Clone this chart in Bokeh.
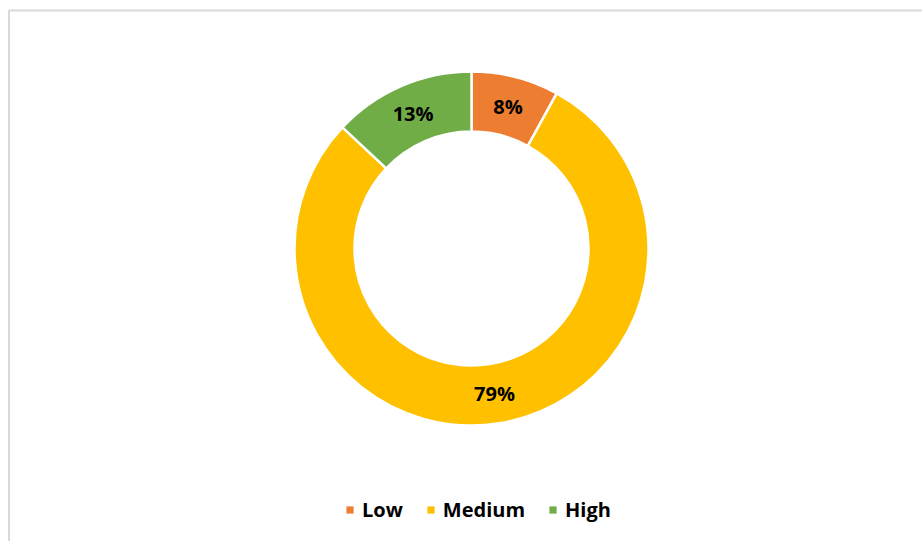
import math
from bokeh.plotting import figure
from bokeh.models import Range1d, Legend, LegendItem, ColumnDataSource
from bokeh.core.properties import value
from bokeh.embed import file_html
from bokeh.resources import INLINE

categories = ["Low", "Medium", "High"]
values = [8, 79, 13]
colors = ["#ED7D31", "#FFC000", "#70AD47"]
labels = ["8%", "79%", "13%"]

W, H = 922, 541
p = figure(width=W, height=H, output_backend="svg", toolbar_location=None,
           x_range=Range1d(0, W), y_range=Range1d(0, H), min_border=0)
p.axis.visible = False
p.grid.visible = False
p.outline_line_color = None
p.background_fill_color = "white"

# chart frame border (left and top visible)
p.quad(left=[8.5], right=[W + 100], top=[531], bottom=[-100],
       fill_color=None, line_color="#d9d9d9", line_width=2)

cx, cy = 471, 293
r_in, r_out = 117, 177
total = sum(values)
starts, ends, lx, ly = [], [], [], []
cum = 0.0
for v in values:
    a0 = math.pi / 2 - 2 * math.pi * cum / total
    a1 = math.pi / 2 - 2 * math.pi * (cum + v) / total
    starts.append(a0)
    ends.append(a1)
    am = (a0 + a1) / 2
    rm = (r_in + r_out) / 2
    lx.append(cx + rm * math.cos(am))
    ly.append(cy + rm * math.sin(am))
    cum += v

src = ColumnDataSource(dict(start=starts, end=ends, color=colors,
                            lx=lx, ly=ly, label=labels))
p.annular_wedge(x=cx, y=cy, inner_radius=r_in, outer_radius=r_out,
                start_angle="start", end_angle="end", direction="clock",
                fill_color="color", line_color="white", line_width=2.5,
                source=src)
p.text(x="lx", y="ly", text="label", source=src, text_align="center",
       text_baseline="middle", text_font=value("Open Sans"),
       text_font_style="bold", text_font_size="20px", text_color="black")

nan = float("nan")
items = []
for c, col in zip(categories, colors):
    r = p.quad(left=[nan], right=[nan], top=[nan], bottom=[nan],
               fill_color=col, line_color=None)
    items.append(LegendItem(label=c, renderers=[r]))

legend = Legend(items=items, orientation="horizontal", location=(345, 18),
                glyph_width=9, glyph_height=9, label_standoff=8, spacing=23,
                padding=0, margin=0, border_line_color=None,
                background_fill_alpha=0,
                label_text_font="Open Sans", label_text_font_style="bold",
                label_text_font_size="20px", label_text_color="black")
p.add_layout(legend, "center")

open("out.html", "w").write(file_html(p, INLINE))
